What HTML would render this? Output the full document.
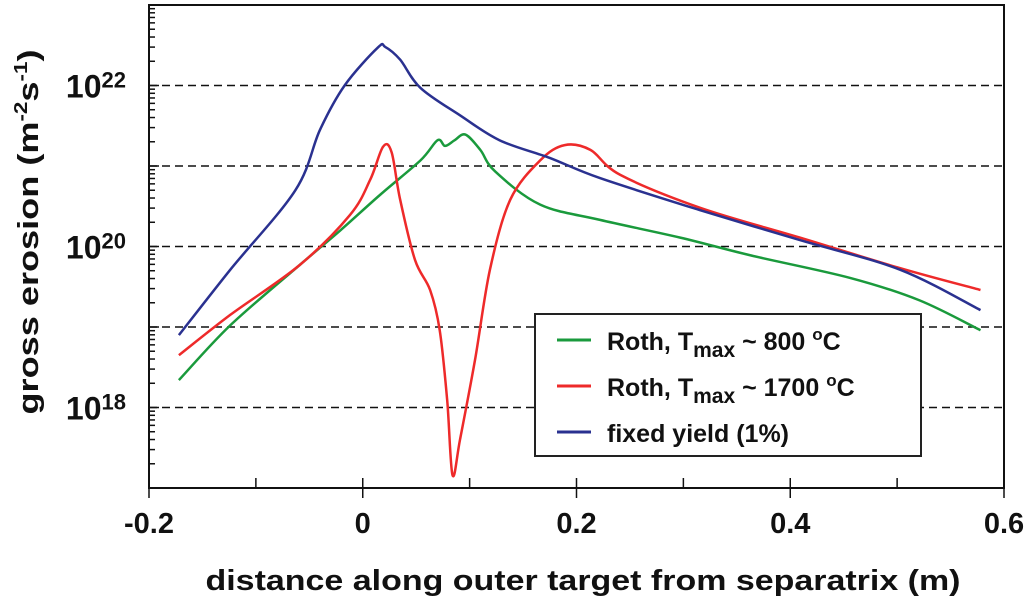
<!DOCTYPE html>
<html><head><meta charset="utf-8"><style>
html,body{margin:0;padding:0;background:#fff;}
svg{display:block;font-family:"Liberation Sans",sans-serif;font-weight:bold;}
</style></head><body>
<svg id="chart" width="1024" height="604" viewBox="0 0 1024 604" xmlns="http://www.w3.org/2000/svg">
<g id="grid"></g>
<g id="axes"></g>
<g id="series"></g>
<text transform="translate(38,232) rotate(-90)" text-anchor="middle" font-size="29" fill="#111" textLength="365" lengthAdjust="spacingAndGlyphs">gross erosion (m<tspan font-size="18" dy="-11">-2</tspan><tspan dy="11">s</tspan><tspan font-size="18" dy="-11">-1</tspan><tspan dy="11">)</tspan></text>
<text x="583" y="590" text-anchor="middle" font-size="29" fill="#111" textLength="755" lengthAdjust="spacingAndGlyphs">distance along outer target from separatrix (m)</text>
<g>
<rect x="535" y="314" width="386" height="142" fill="#fff" stroke="#222" stroke-width="2"/>
<line x1="557" y1="340" x2="591" y2="340" stroke="#1a9a3c" stroke-width="3"/>
<text x="607" y="350" font-size="25" fill="#111">Roth, T<tspan font-size="21" dy="7">max</tspan><tspan dy="-7"> ~ 800 </tspan><tspan font-size="17" dy="-10">o</tspan><tspan dy="10">C</tspan></text>
<line x1="557" y1="386" x2="591" y2="386" stroke="#ee2a2a" stroke-width="3"/>
<text x="607" y="396" font-size="25" fill="#111">Roth, T<tspan font-size="21" dy="7">max</tspan><tspan dy="-7"> ~ 1700 </tspan><tspan font-size="17" dy="-10">o</tspan><tspan dy="10">C</tspan></text>
<line x1="557" y1="432" x2="591" y2="432" stroke="#2a3190" stroke-width="3"/>
<text x="607" y="442" font-size="25" fill="#111">fixed yield (1%)</text>
</g>
</svg>
<script>
const xTicks = [-0.2, 0, 0.2, 0.4, 0.6];
const xTickLabels = ["-0.2", "0", "0.2", "0.4", "0.6"];
const yDecades = [17, 18, 19, 20, 21, 22, 23];
const yLabelExps = [18, 20, 22];
const greenX = [-0.172,-0.124,-0.059,-0.021,0.016,0.054,0.070,0.077,0.086,0.096,0.110,0.124,0.166,0.222,0.297,0.363,0.456,0.521,0.578];
const greenY = [18.34,19.02,19.77,20.20,20.64,21.07,21.32,21.25,21.32,21.39,21.20,20.93,20.52,20.33,20.11,19.89,19.61,19.33,18.96];
const redX = [-0.172,-0.124,-0.059,-0.012,0.007,0.019,0.027,0.035,0.049,0.063,0.072,0.079,0.084,0.091,0.105,0.119,0.138,0.166,0.189,0.213,0.241,0.316,0.409,0.503,0.578];
const redY = [18.65,19.15,19.77,20.39,20.83,21.24,21.17,20.58,19.83,19.46,18.96,18.09,17.16,17.60,18.59,19.71,20.58,21.07,21.26,21.20,20.89,20.48,20.11,19.73,19.46];
const blueX = [-0.172,-0.124,-0.063,-0.040,-0.017,0.014,0.021,0.035,0.054,0.091,0.128,0.175,0.222,0.316,0.409,0.503,0.578];
const blueY = [18.90,19.71,20.70,21.45,22.0,22.47,22.48,22.32,21.97,21.63,21.32,21.10,20.85,20.45,20.08,19.71,19.21];

const NS = "http://www.w3.org/2000/svg";
const L = 149, R = 1004, T = 5, B = 488;
const xs = v => L + (v + 0.2) / 0.8 * (R - L);
const ys = lg => B - (lg - 17) / 6 * (B - T);
function mk(tag, attrs, parent){const e=document.createElementNS(NS,tag);for(const k in attrs)e.setAttribute(k,attrs[k]);parent.appendChild(e);return e;}
const grid=document.getElementById('grid'), axes=document.getElementById('axes'), series=document.getElementById('series');

yDecades.forEach(d=>{
  if(d>17 && d<23){
    const g=mk('line',{x1:L,x2:R,y1:ys(d),y2:ys(d),stroke:'#111','stroke-width':1.5,'stroke-dasharray':'8,5'},grid);
    
    
  }
  if(d<23){
    for(let m=1;m<=9;m++){
      const y=ys(d+Math.log10(m));
      const len = m===1?10:6;
      const t=mk('line',{x1:L,x2:L+len,y1:y,y2:y,stroke:'#111','stroke-width':1.5},axes);
      
      
    }
  }
});
yLabelExps.forEach(e=>{
  const t=mk('text',{x:126,y:ys(e)+12,'text-anchor':'end','font-size':32,fill:'#111'},axes);
  
  
  t.textContent='10';
  const s=mk('tspan',{'font-size':22,dy:-10},t);
  s.textContent=String(e);
});
for(let v=-0.2;v<=0.61;v+=0.1){
  const x=xs(v);
  const t=mk('line',{x1:x,x2:x,y1:B,y2:B-10,stroke:'#111','stroke-width':1.5},axes);
  
  
}
xTicks.forEach((v,i)=>{
  const x=xs(v);
  const t=mk('line',{x1:x,x2:x,y1:B,y2:B+10,stroke:'#111','stroke-width':1.5},axes);
  
  
  const l=mk('text',{x:x,y:533,'text-anchor':'middle','font-size':29,fill:'#111'},axes);
  
  
  l.textContent=xTickLabels[i];
});
const frame=mk('rect',{x:L,y:T,width:R-L,height:B-T,fill:'none',stroke:'#111','stroke-width':2},axes);



function line(X,Y,color,name){
  const P=X.map((v,i)=>[xs(v),ys(Y[i])]);
  let d='M'+P[0][0].toFixed(1)+','+P[0][1].toFixed(1);
  for(let i=0;i<P.length-1;i++){
    const p0=P[Math.max(0,i-1)],p1=P[i],p2=P[i+1],p3=P[Math.min(P.length-1,i+2)];
    const c1=[p1[0]+(p2[0]-p0[0])/6,p1[1]+(p2[1]-p0[1])/6];
    const c2=[p2[0]-(p3[0]-p1[0])/6,p2[1]-(p3[1]-p1[1])/6];
    d+=' C'+c1.map(n=>n.toFixed(1)).join(',')+' '+c2.map(n=>n.toFixed(1)).join(',')+' '+p2.map(n=>n.toFixed(1)).join(',');
  }
  const p=mk('path',{d:d,fill:'none',stroke:color,'stroke-width':2.5,'stroke-linejoin':'round'},series);
  
  
}
line(greenX,greenY,'#1a9a3c','series-roth-800');
line(redX,redY,'#ee2a2a','series-roth-1700');
line(blueX,blueY,'#2a3190','series-fixed-yield');
</script>
</body></html>
